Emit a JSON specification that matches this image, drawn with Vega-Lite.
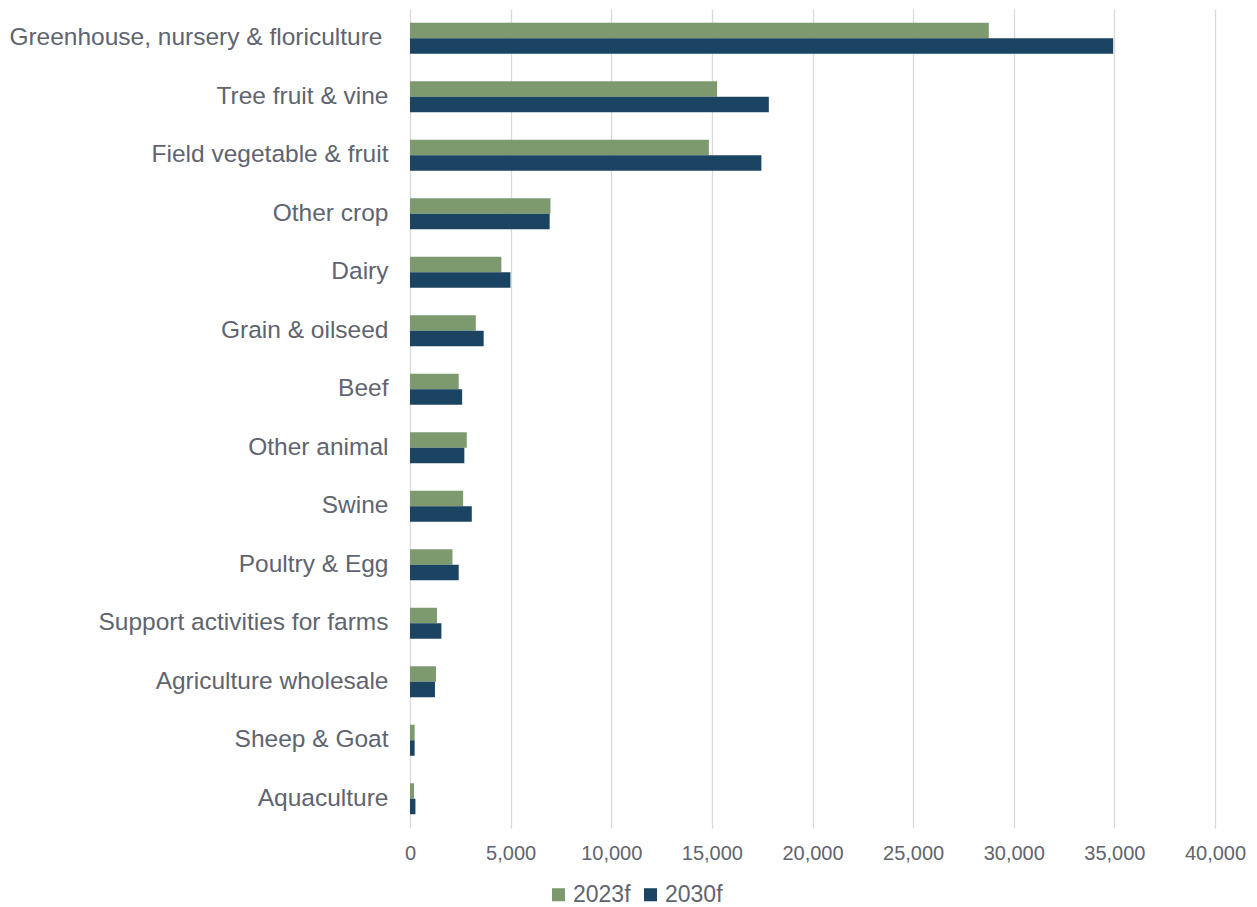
{
  "$schema": "https://vega.github.io/schema/vega-lite/v6.json",
  "width": 805,
  "height": 819,
  "autosize": {"type": "none"},
  "padding": {"left": 410, "top": 9, "right": 42, "bottom": 79},
  "background": "white",
  "config": {
    "view": {"stroke": null},
    "font": "Liberation Sans"
  },
  "data": {
    "values": [
      {"category": "Greenhouse, nursery & floriculture", "series": "2023f", "value": 28760},
      {"category": "Greenhouse, nursery & floriculture", "series": "2030f", "value": 34940},
      {"category": "Tree fruit & vine", "series": "2023f", "value": 15260},
      {"category": "Tree fruit & vine", "series": "2030f", "value": 17830},
      {"category": "Field vegetable & fruit", "series": "2023f", "value": 14850},
      {"category": "Field vegetable & fruit", "series": "2030f", "value": 17460},
      {"category": "Other crop", "series": "2023f", "value": 6980},
      {"category": "Other crop", "series": "2030f", "value": 6940},
      {"category": "Dairy", "series": "2023f", "value": 4540},
      {"category": "Dairy", "series": "2030f", "value": 4990},
      {"category": "Grain & oilseed", "series": "2023f", "value": 3270},
      {"category": "Grain & oilseed", "series": "2030f", "value": 3660},
      {"category": "Beef", "series": "2023f", "value": 2420},
      {"category": "Beef", "series": "2030f", "value": 2590},
      {"category": "Other animal", "series": "2023f", "value": 2820},
      {"category": "Other animal", "series": "2030f", "value": 2700},
      {"category": "Swine", "series": "2023f", "value": 2640},
      {"category": "Swine", "series": "2030f", "value": 3070},
      {"category": "Poultry & Egg", "series": "2023f", "value": 2110},
      {"category": "Poultry & Egg", "series": "2030f", "value": 2420},
      {"category": "Support activities for farms", "series": "2023f", "value": 1340},
      {"category": "Support activities for farms", "series": "2030f", "value": 1560},
      {"category": "Agriculture wholesale", "series": "2023f", "value": 1290},
      {"category": "Agriculture wholesale", "series": "2030f", "value": 1240},
      {"category": "Sheep & Goat", "series": "2023f", "value": 230},
      {"category": "Sheep & Goat", "series": "2030f", "value": 230},
      {"category": "Aquaculture", "series": "2023f", "value": 200},
      {"category": "Aquaculture", "series": "2030f", "value": 270}
    ]
  },
  "mark": {"type": "bar"},
  "encoding": {
    "y": {
      "field": "category",
      "type": "nominal",
      "sort": ["Greenhouse, nursery & floriculture", "Tree fruit & vine", "Field vegetable & fruit", "Other crop", "Dairy", "Grain & oilseed", "Beef", "Other animal", "Swine", "Poultry & Egg", "Support activities for farms", "Agriculture wholesale", "Sheep & Goat", "Aquaculture"],
      "scale": {"paddingInner": 0.47, "paddingOuter": 0.235},
      "axis": {
        "title": null,
        "domain": false,
        "ticks": false,
        "labelPadding": {"condition": {"test": "datum.label == 'Greenhouse, nursery & floriculture'", "value": 28}, "value": 22},
        "labelFontSize": 24.5,
        "labelColor": "#60646e",
        "labelLimit": 0
      }
    },
    "yOffset": {"field": "series", "type": "nominal", "sort": ["2023f", "2030f"]},
    "x": {
      "field": "value",
      "type": "quantitative",
      "scale": {"domain": [0, 40000], "nice": false},
      "axis": {
        "title": null,
        "domain": false,
        "ticks": false,
        "values": [0, 5000, 10000, 15000, 20000, 25000, 30000, 35000, 40000],
        "format": ",.0f",
        "grid": true,
        "gridColor": "#d9d9d9",
        "gridWidth": 1.3,
        "labelFlush": false,
        "labelPadding": 15,
        "labelFontSize": 20,
        "labelColor": "#60646e"
      }
    },
    "color": {
      "field": "series",
      "type": "nominal",
      "scale": {"domain": ["2023f", "2030f"], "range": ["#7D9A6F", "#1B4462"]},
      "legend": {
        "title": null,
        "orient": "none",
        "direction": "horizontal",
        "legendX": 137,
        "legendY": 874,
        "padding": 0,
        "symbolType": "square",
        "symbolSize": 170,
        "symbolStrokeWidth": 0,
        "labelFontSize": 23,
        "labelColor": "#60646e",
        "labelOffset": 3,
        "columnPadding": 8
      }
    }
  }
}
